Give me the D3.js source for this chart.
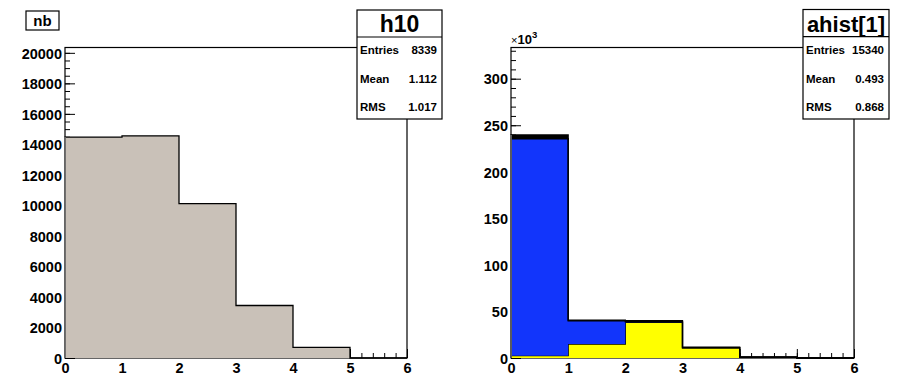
<!DOCTYPE html>
<html>
<head>
<meta charset="utf-8">
<script src="https://d3js.org/d3.v7.min.js"></script>
<style>
  body { margin: 0; background: #fff; }
  svg { display: block; }
  text { font-family: "Liberation Sans", Arial, sans-serif; font-weight: bold; fill: #000; }
</style>
</head>
<body>
<svg width="899" height="375"></svg>
<script>
// bin edges shared by both pads
const binEdges = [0, 1, 2, 3, 4, 5, 6];

// left pad : h10
const h10Values = [14480, 14560, 10120, 3440, 700, 0];
const h10Ticks = [0, 2000, 4000, 6000, 8000, 10000, 12000, 14000, 16000, 18000, 20000];
const h10Stats = [["Entries", "8339"], ["Mean", "1.112"], ["RMS", "1.017"]];

// right pad : stacked ahist (values in units of 10^3)
const stackNames = ["yellow", "blue", "black"];
const yellowValues = [2.5, 15, 38.4, 11, 0.8, 0];
const blueValues = [233, 24.8, 0.4, 0, 0, 0];
const blackValues = [4, 0.8, 1.2, 0.6, 0.3, 0];
const ahistTicks = [0, 50, 100, 150, 200, 250, 300];
const ahistStats = [["Entries", "15340"], ["Mean", "0.493"], ["RMS", "0.868"]];

const svg = d3.select('svg');

function drawPad(opt) {
  const g = svg.append('g');
  const x = d3.scaleLinear().domain([0, 6]).range([opt.left, opt.right]);
  const y = d3.scaleLinear().domain([0, opt.ymax]).range([opt.bottom, opt.top]);

  // minor ticks
  const yMinor = d3.range(0, opt.ymax, opt.minorStep);
  g.append('g').attr('transform', `translate(${opt.left},0)`)
    .call(d3.axisLeft(y).tickValues(yMinor).tickSize(-5).tickFormat(''))
    .call(a => a.select('.domain').remove());
  g.append('g').attr('transform', `translate(0,${opt.bottom})`)
    .call(d3.axisBottom(x).tickValues(d3.range(0, 6.01, 0.2)).tickSize(-5).tickFormat(''))
    .call(a => a.select('.domain').remove());

  // major ticks + labels
  const ya = g.append('g').attr('transform', `translate(${opt.left},0)`)
    .call(d3.axisLeft(y).tickValues(opt.ticks).tickSize(-10).tickPadding(3).tickFormat(d3.format('d')));
  ya.select('.domain').remove();
  ya.selectAll('text').style('font-size', '14.5px').attr('dy', '0.36em');
  const xa = g.append('g').attr('transform', `translate(0,${opt.bottom})`)
    .call(d3.axisBottom(x).tickValues(binEdges).tickSize(-9).tickPadding(5).tickFormat(d3.format('d')));
  xa.select('.domain').remove();
  xa.selectAll('text').style('font-size', '14.5px').attr('dy', '0.72em');
  g.selectAll('.tick line').attr('stroke', '#000');

  // frame
  g.append('rect')
    .attr('x', opt.left).attr('y', opt.top)
    .attr('width', opt.right - opt.left).attr('height', opt.bottom - opt.top)
    .attr('fill', 'none').attr('stroke', '#000').attr('stroke-width', 1.2);

  return { g, x, y };
}

function stepArea(x, y, lower, upper) {
  const pts = [];
  upper.forEach((v, i) => { pts.push([x(binEdges[i]), y(v)]); pts.push([x(binEdges[i + 1]), y(v)]); });
  const low = [];
  lower.forEach((v, i) => { low.push([x(binEdges[i]), y(v)]); low.push([x(binEdges[i + 1]), y(v)]); });
  return 'M' + pts.concat(low.reverse()).map(p => p.join(',')).join('L') + 'Z';
}

function stepLine(x, y, vals) {
  const pts = [[x(binEdges[0]), y(0)]];
  vals.forEach((v, i) => { pts.push([x(binEdges[i]), y(v)]); pts.push([x(binEdges[i + 1]), y(v)]); });
  pts.push([x(binEdges[binEdges.length - 1]), y(0)]);
  return 'M' + pts.map(p => p.join(',')).join('L');
}

function statBox(x0, x1, y0, y1, ydiv, title, titleSize, stats) {
  const b = svg.append('g');
  b.append('rect').attr('x', x0).attr('y', y0).attr('width', x1 - x0).attr('height', y1 - y0)
    .attr('fill', '#fff').attr('stroke', '#000').attr('stroke-width', 1.2);
  b.append('line').attr('x1', x0).attr('x2', x1).attr('y1', ydiv).attr('y2', ydiv)
    .attr('stroke', '#000').attr('stroke-width', 1.2);
  b.append('text').attr('x', (x0 + x1) / 2).attr('y', ydiv - 5)
    .attr('text-anchor', 'middle').style('font-size', titleSize + 'px').text(title);
  const rows = [50, 79, 107];
  stats.forEach((s, i) => {
    b.append('text').attr('x', x0 + 3).attr('y', rows[i] + 4).style('font-size', '11.5px').text(s[0]);
    b.append('text').attr('x', x1 - 5).attr('y', rows[i] + 4).attr('text-anchor', 'end')
      .style('font-size', '11.5px').text(s[1]);
  });
}

// ---- left pad
const L = drawPad({ left: 65, right: 407, top: 47.5, bottom: 358, ymax: 20350, ticks: h10Ticks, minorStep: 500 });
L.g.append('path').attr('d', stepArea(L.x, L.y, h10Values.map(() => 0), h10Values))
  .attr('fill', '#c9c1b8');
L.g.append('path').attr('d', stepLine(L.x, L.y, h10Values))
  .attr('fill', 'none').attr('stroke', '#000').attr('stroke-width', 1.3);
L.g.append('line').attr('x1', 65).attr('x2', 65).attr('y1', L.y(h10Values[0])).attr('y2', 358)
  .attr('stroke', '#888').attr('stroke-width', 1.3);

// ---- right pad
const R = drawPad({ left: 511, right: 854, top: 47.5, bottom: 358, ymax: 333.5, ticks: ahistTicks, minorStep: 10 });
const layers = [yellowValues, blueValues, blackValues];
const colors = { yellow: '#ffff00', blue: '#1235fb', black: '#000' };
let base = yellowValues.map(() => 0);
layers.forEach((vals, k) => {
  const top = vals.map((v, i) => base[i] + v);
  R.g.append('path').attr('d', stepArea(R.x, R.y, base, top)).attr('fill', colors[stackNames[k]]);
  R.g.append('path').attr('d', stepLine(R.x, R.y, top))
    .attr('fill', 'none').attr('stroke', '#000').attr('stroke-width', 1.3);
  base = top;
});
R.g.append('line').attr('x1', 511).attr('x2', 511).attr('y1', R.y(base[0])).attr('y2', 358)
  .attr('stroke', '#888').attr('stroke-width', 1.3);
const mult = R.g.append('text').attr('x', 511).attr('y', 44);
mult.append('tspan').style('font-size', '11px').style('font-weight', 'normal').text('\u00d7');
mult.append('tspan').style('font-size', '13px').text('10');
mult.append('tspan').attr('dy', -6).style('font-size', '9.5px').text('3');

// ---- stat boxes
statBox(357, 442, 10, 119, 37, 'h10', 23, h10Stats);
statBox(803, 889, 9.5, 119, 36.7, 'ahist[1]', 22, ahistStats);

// ---- "nb" label
svg.append('rect').attr('x', 26).attr('y', 11).attr('width', 33).attr('height', 19)
  .attr('fill', '#fff').attr('stroke', '#000').attr('stroke-width', 1.2);
svg.append('text').attr('x', 42.5).attr('y', 26).attr('text-anchor', 'middle').style('font-size', '15px').text('nb');
</script>
</body>
</html>
